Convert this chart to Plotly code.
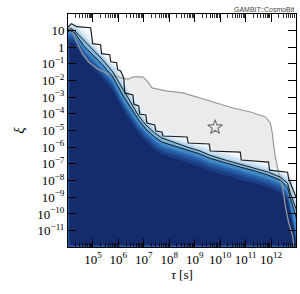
import plotly.graph_objects as go

# ---------------- data (log10 values) ----------------
# outer (2 sigma) contour of the profile likelihood: log10(tau/s), log10(xi)
outer_logtau = [4.00, 4.16, 4.36, 4.91, 4.99, 5.30, 5.34, 5.66, 5.70, 5.93, 5.97, 6.09,
                6.21, 6.25, 6.57, 6.61, 6.80, 6.84, 7.08, 7.12, 7.43, 7.47, 7.71, 7.75,
                8.70, 8.74, 9.57, 9.61, 10.79, 10.83, 11.90, 11.94, 12.65, 12.69, 12.84,
                12.96, 13.08]
outer_logxi = [1.16, 1.40, 1.22, 1.16, 0.20, 0.14, -0.40, -0.46, -0.88, -0.94, -1.37, -1.43,
               -1.85, -2.75, -2.87, -3.41, -3.53, -4.01, -4.07, -4.55, -4.67, -5.03, -5.09, -5.33,
               -5.39, -5.75, -5.81, -6.23, -6.29, -6.77, -6.89, -7.38, -7.50, -7.86, -8.46,
               -8.94, -9.36]

# inner contours / core of the blue likelihood map, on a common tau grid
band_logtau = [4.00, 4.12, 4.28, 4.47, 4.67, 4.99, 5.38, 5.78, 5.97, 6.17, 6.37, 6.57,
               6.80, 7.08, 7.43, 7.71, 8.22, 8.70, 9.21, 9.57, 10.20, 10.79, 11.38, 11.90,
               12.37, 12.65, 12.76, 12.88, 13.00]
inner1_logxi = [1.04, 1.10, 0.98, 0.68, 0.32, -0.16, -0.76, -1.49, -1.97, -2.51, -2.99, -3.53,
                -4.13, -4.67, -5.15, -5.45, -5.75, -5.99, -6.23, -6.47, -6.77, -7.01, -7.25, -7.50,
                -7.80, -8.16, -8.76, -9.30, -9.78]
inner2_logxi = [0.92, 0.98, 0.86, 0.44, 0.02, -0.46, -1.06, -1.79, -2.33, -2.87, -3.35, -3.83,
                -4.37, -4.91, -5.39, -5.69, -5.93, -6.17, -6.41, -6.65, -6.95, -7.19, -7.43, -7.68,
                -7.98, -8.40, -9.06, -9.66, -10.26]
core_logxi = [0.68, 0.80, 0.68, 0.20, -0.22, -0.76, -1.37, -2.09, -2.69, -3.23, -3.71, -4.13,
              -4.67, -5.15, -5.63, -5.93, -6.17, -6.41, -6.65, -6.89, -7.19, -7.43, -7.68, -7.92,
              -8.22, -8.76, -9.54, -10.38, -11.58]

# grey contour (other analysis)
grey_logtau = [4.00, 4.14, 4.24, 4.39, 4.59, 4.83, 5.18, 5.58, 6.01, 6.21, 6.41, 6.57, 6.96,
               7.16, 7.32, 7.87, 8.54, 9.21, 9.88, 10.51, 11.19, 11.78, 11.97, 12.05, 12.09,
               12.17, 12.29, 12.45, 12.57, 12.69, 12.84, 12.92]
grey_logxi = [0.92, 1.12, 0.74, 0.20, -0.40, -0.88, -1.31, -1.61, -1.79, -1.91, -1.91, -1.79,
              -1.79, -2.09, -2.45, -2.63, -2.75, -3.05, -3.35, -3.65, -3.89, -4.19, -4.55,
              -5.15, -5.75, -6.59, -7.50, -8.40, -9.60, -10.50, -11.28, -12.10]

bestfit_logtau = [9.80]
bestfit_logxi = [-4.81]

x_tick_exp = [5, 6, 7, 8, 9, 10, 11, 12]
y_tick_exp = [1, 0, -1, -2, -3, -4, -5, -6, -7, -8, -9, -10, -11]

# ---------------- helpers ----------------
LEFT, RIGHT, BOTTOM = 3.9, 13.1, -12.5


def p(v):
    return [10 ** a for a in v]


def region(xs, ys, left=LEFT, bottom=BOTTOM, right=None):
    """closed region below a curve, reaching the left and bottom edges"""
    r = xs[-1] if right is None else right
    px = [left] + list(xs) + [r, left]
    py = [ys[0]] + list(ys) + [bottom, bottom]
    return p(px), p(py)


fig = go.Figure()


def add_fill(xs, ys, color, **kw):
    X, Y = region(xs, ys, **kw)
    fig.add_trace(go.Scatter(x=X, y=Y, mode="lines", fill="toself", fillcolor=color,
                             line=dict(width=0, color=color), hoverinfo="skip",
                             showlegend=False))


def add_line(xs, ys, color, width):
    fig.add_trace(go.Scatter(x=p(xs), y=p(ys), mode="lines",
                             line=dict(color=color, width=width), hoverinfo="skip",
                             showlegend=False))


# grey region
add_fill(grey_logtau, grey_logxi, "#ebebeb")
# blue likelihood map (stacked levels)
add_fill(outer_logtau, outer_logxi, "#f7fafd")
add_line(band_logtau, inner1_logxi, "#e6f0f9", 14)
add_line(band_logtau, inner1_logxi, "#cce0f1", 8)
add_line(band_logtau, inner1_logxi, "#a6cde6", 4)
add_fill(band_logtau, inner1_logxi, "#7ab6dd")
add_fill(band_logtau, inner2_logxi, "#3e88c8")
add_fill(band_logtau, core_logxi, "#2c66ad")
add_fill(band_logtau, [v - 0.15 for v in core_logxi], "#23539b", left=4.03, bottom=-11.94)
add_fill(band_logtau, [v - 0.30 for v in core_logxi], "#1b4086", left=4.06, bottom=-11.9)
add_fill(band_logtau, [v - 0.50 for v in core_logxi], "#152c6c", left=4.08, bottom=-11.86)

# contour lines
add_line(grey_logtau, grey_logxi, "#9a9a9a", 1.2)
add_line(outer_logtau, outer_logxi, "#1c1c1c", 1.2)
add_line(band_logtau, inner1_logxi, "#1c1c1c", 1.0)
add_line(band_logtau, inner2_logxi, "#1c1c1c", 1.0)

# best fit star
fig.add_trace(go.Scatter(x=p(bestfit_logtau), y=p(bestfit_logxi), mode="markers",
                         marker=dict(symbol="star-open", size=11, color="#7a7a7a",
                                     line=dict(width=1.2, color="#7a7a7a")),
                         showlegend=False, hoverinfo="skip"))

serif = "Liberation Serif, DejaVu Serif, serif"

xminor = [k * 10 ** n for n in range(4, 13) for k in range(2, 10)]
fig.update_xaxes(type="log", range=[4.02, 12.98],
                 tickvals=[10 ** e for e in x_tick_exp],
                 ticktext=[f"10<sup>{e}</sup>" for e in x_tick_exp],
                 ticks="inside", ticklen=8, tickwidth=1, tickcolor="black",
                 minor=dict(tickvals=xminor, ticks="inside", ticklen=4, tickwidth=0.8,
                            tickcolor="black", showgrid=False),
                 showline=True, linecolor="black", linewidth=1, mirror="allticks",
                 showgrid=False, zeroline=False,
                 tickfont=dict(family=serif, size=13, color="black"),
                 title=dict(text="<i>τ</i> [s]", font=dict(family=serif, size=13, color="black"),
                            standoff=0))


def ylab(e):
    if e == 1:
        return "10"
    if e == 0:
        return "1"
    return f"10<sup>−{-e}</sup>"


fig.update_yaxes(type="log", range=[-11.98, 1.98],
                 tickvals=[10 ** e for e in y_tick_exp],
                 ticktext=[ylab(e) for e in y_tick_exp],
                 ticks="inside", ticklen=8, tickwidth=1, tickcolor="black",
                 showline=True, linecolor="black", linewidth=1, mirror="allticks",
                 showgrid=False, zeroline=False,
                 tickfont=dict(family=serif, size=13, color="black"),
                 title=dict(text="<i>ξ</i>", font=dict(family=serif, size=15, color="black"),
                            standoff=8))

fig.add_annotation(text="GAMBIT::CosmoBit", xref="paper", yref="paper", x=1, y=1,
                   xanchor="right", yanchor="bottom", showarrow=False, yshift=-1,
                   font=dict(family="Liberation Sans, Arial, sans-serif", size=7, color="#444"))

fig.update_layout(width=300, height=294, margin=dict(l=68, r=4, t=14, b=47),
                  paper_bgcolor="white", plot_bgcolor="white", showlegend=False)

fig.write_html("out.html", config={"displayModeBar": False, "staticPlot": True},
               post_script="document.body.style.margin='0';document.body.style.padding='0';")
